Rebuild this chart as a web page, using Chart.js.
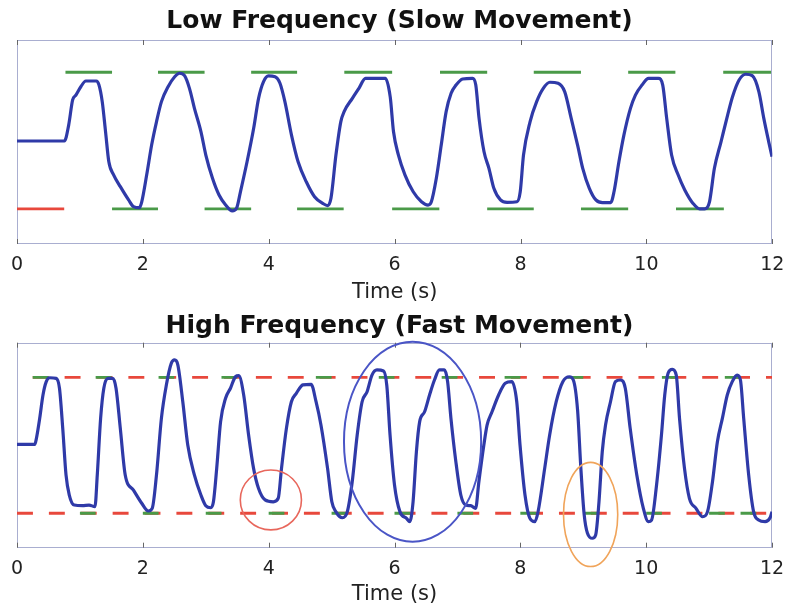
<!DOCTYPE html>
<html>
<head>
<meta charset="utf-8">
<script src="https://cdn.jsdelivr.net/npm/chart.js@4.4.1/dist/chart.umd.min.js"></script>
<style>
  html, body { margin: 0; padding: 0; background: #fff; }
  #wrap { position: relative; width: 794px; height: 608px; overflow: hidden; }
  canvas { position: absolute; left: 0; }
  #slow { top: 0; }
  #fast { top: 300px; }
</style>
</head>
<body>
<div id="wrap">
  <canvas id="slow" width="794" height="306"></canvas>
  <canvas id="fast" width="794" height="308"></canvas>
</div>
<script>
// ---- data: time (s) and position (arbitrary units, 0-100 over the axes height)
var xTicks = [0, 2, 4, 6, 8, 10, 12];

// low frequency trace
var slowTime = [0, 0.753, 0.821, 0.884, 0.936, 1.014, 1.093, 1.26, 1.302, 1.354, 1.407, 1.459, 1.537, 1.642, 1.773, 1.851, 1.945, 1.982,
  2.06, 2.139, 2.217, 2.295, 2.4, 2.505, 2.583, 2.662, 2.74, 2.819, 2.923, 3.0, 3.106, 3.21, 3.315, 3.42, 3.488, 3.55, 3.655, 3.76,
  3.838, 3.917, 3.995, 4.1, 4.178, 4.256, 4.361, 4.466, 4.596, 4.727, 4.858, 4.936, 4.988, 5.067, 5.145, 5.197, 5.328, 5.432, 5.537,
  5.851, 5.93, 5.982, 6.06, 6.165, 6.295, 6.426, 6.53, 6.583, 6.662, 6.74, 6.818, 6.897, 6.975, 7.08, 7.237, 7.289, 7.341, 7.42,
  7.498, 7.576, 7.681, 7.786, 7.943, 7.995, 8.047, 8.152, 8.256, 8.361, 8.466, 8.596, 8.701, 8.805, 8.91, 8.988, 9.093, 9.197,
  9.302, 9.433, 9.485, 9.563, 9.642, 9.746, 9.825, 9.929, 10.034, 10.191, 10.259, 10.322, 10.4, 10.505, 10.609, 10.74, 10.845,
  10.924, 11.002, 11.08, 11.185, 11.29, 11.368, 11.472, 11.577, 11.681, 11.786, 11.865, 11.943, 11.995];
var slowPos = [50.5, 50.5, 58.3, 70.6, 73, 77.1, 79.9, 79.9, 78, 69.8, 55, 40.3, 33.8, 28.1, 21.6, 18.3, 17.8, 20.7,
  33.8, 48.5, 60, 69.8, 77.1, 82, 83.7, 82.5, 76.3, 66.5, 55, 43.6, 32.2, 24, 19.1, 16.2, 17.5, 25.6, 40.3, 56.7,
  71.4, 79.6, 82.4, 82, 78.8, 69.8, 53.4, 40.3, 30.5, 23.2, 19.9, 18.8, 22.4, 43.6, 60, 64.9, 71.4, 76.3, 81.2,
  81.2, 72, 55, 43.6, 33.8, 25.6, 20.7, 19.1, 20.7, 32.2, 48.5, 64.9, 73.9, 77.9, 80.9, 81.2, 77.9, 61.6, 45.2,
  37.1, 27.3, 21.6, 20.4, 20.7, 25.6, 43.6, 60, 69.8, 76.3, 79.3, 78.8, 74.7, 61.6, 48, 37.1, 27.3, 21.6,
  20.3, 20.3, 25.6, 40.3, 53.4, 66.5, 73, 77.9, 81.2, 81.2, 77.9, 61.6, 43.6, 33.8, 26.5, 19.9, 17.2,
  17.2, 20.7, 37.1, 50.1, 63.2, 72.2, 80.4, 83.2, 82.5, 74.7, 61.6, 50.1, 42.8];

// low frequency targets
var slowHigh = 84.2;
var slowLow = 17.2;
var slowHighStart = [0.77, 2.24, 3.72, 5.2, 6.72, 8.21, 9.71, 11.22];
var slowHighEnd = [1.51, 2.98, 4.45, 5.96, 7.47, 8.96, 10.46, 11.98];
var slowLowStart = [1.51, 2.98, 4.45, 5.96, 7.47, 8.96, 10.47];
var slowLowEnd = [2.24, 3.72, 5.19, 6.71, 8.21, 9.71, 11.23];
var slowRestStart = [0];
var slowRestEnd = [0.75];

// high frequency trace
var fastTime = [0, 0.282, 0.309, 0.361, 0.413, 0.465, 0.518, 0.622, 0.675, 0.727, 0.779, 0.831, 0.91, 1.04, 1.145, 1.239, 1.276,
  1.329, 1.38, 1.448, 1.522, 1.574, 1.642, 1.72, 1.851, 1.982, 2.086, 2.149, 2.217, 2.295, 2.374, 2.452, 2.505, 2.557, 2.635,
  2.714, 2.819, 2.923, 3.0, 3.08, 3.122, 3.174, 3.236, 3.315, 3.393, 3.472, 3.524, 3.603, 3.681, 3.76, 3.838, 3.943, 4.073,
  4.152, 4.204, 4.282, 4.361, 4.439, 4.544, 4.675, 4.753, 4.831, 4.936, 5.004, 5.067, 5.172, 5.25, 5.328, 5.407, 5.485, 5.564,
  5.642, 5.721, 5.825, 5.878, 5.929, 6.0, 6.086, 6.191, 6.243, 6.295, 6.348, 6.4, 6.478, 6.557, 6.635, 6.714, 6.792, 6.844,
  6.897, 6.975, 7.054, 7.132, 7.211, 7.289, 7.341, 7.42, 7.472, 7.55, 7.655, 7.76, 7.864, 7.943, 7.995, 8.074, 8.152, 8.23,
  8.282, 8.387, 8.466, 8.57, 8.675, 8.78, 8.842, 8.91, 8.962, 9.015, 9.067, 9.145, 9.197, 9.25, 9.302, 9.354, 9.433, 9.511,
  9.589, 9.668, 9.746, 9.851, 9.955, 10.034, 10.086, 10.165, 10.243, 10.295, 10.348, 10.416, 10.478, 10.53, 10.609, 10.687,
  10.792, 10.897, 10.975, 11.054, 11.132, 11.211, 11.289, 11.368, 11.446, 11.498, 11.55, 11.629, 11.707, 11.786, 11.89, 11.969, 12.0];
var fastPos = [50.4, 50.4, 53.4, 63.1, 74.5, 81, 82.9, 82.6, 77.8, 58.2, 35.5, 25.7, 20.8, 20.5, 20.8, 20, 35.5,
  63.1, 77.8, 82.6, 82.6, 77.8, 58.2, 35.5, 28.1, 21.7, 17.9, 19.2, 35.5, 63.1, 79.4, 89.9, 91.6, 89.1, 71.2,
  50.1, 35.5, 25.7, 20.5, 19.5, 22.4, 38.7, 61.5, 72.9, 77.8, 83.4, 83.9, 74.5, 55, 38.7, 29, 23.3, 22.4,
  24.1, 38.7, 58.2, 71.2, 75.3, 79.4, 79.7, 71.2, 59.9, 38.7, 22.4, 17.6, 14.6, 17.6, 32.2, 55, 71.2, 76.1,
  84.2, 86.7, 86.2, 79, 55, 30.6, 17.6, 14.3, 12.7, 22.4, 46.8, 61.5, 66.3, 74.5, 81.8, 86.7, 86.7, 81,
  63.1, 42, 25.7, 20.8, 20.5, 19.2, 32.2, 50.1, 59.9, 66.3, 74.5, 80.2, 81, 71.2, 50.1, 25.7, 14.3, 12.7,
  17.6, 38.7, 55, 71.2, 81, 83.4, 81.8, 67, 38.7, 16, 7, 4.6, 6.2, 22.4, 46.8, 59.9, 71.2, 81,
  81.8, 77.8, 58.2, 35.5, 19.2, 12.7, 13.5, 30.6, 55, 74.5, 85.1, 87, 84.2, 63.1, 38.7, 24.1,
  19.2, 15.1, 17.6, 32.2, 51.7, 63.1, 74.5, 81, 84.2, 81.8, 63.1, 35.5, 17.6, 13.5, 12.7, 14.6, 17.6];

// high frequency targets (red dashed limits, green where the target is active)
var fastHigh = 83.1;
var fastLow = 16.8;
var fastHighRange = [0.25, 12];
var fastLowRange = [0, 12];
var fastHighGreenStart = [0.25, 1.25, 2.25, 3.25, 4.75, 5.75, 6.75, 7.75, 8.75, 10.25, 11.25];
var fastHighGreenEnd = [0.5, 1.5, 2.5, 3.5, 5.0, 6.0, 7.0, 8.0, 9.0, 10.5, 11.5];
var fastLowGreenStart = [1, 2, 3, 4, 5, 6, 7, 8, 9, 10, 11, 11.5];
var fastLowGreenEnd = [1.25, 2.25, 3.25, 4.25, 5.25, 6.25, 7.25, 8.25, 9.25, 10.25, 11.25, 11.75];

// annotations on the fast trace: centre (time, position) and half sizes
var ringTime = [4.035, 6.287, 9.117];
var ringPos = [23.3, 51.7, 16.2];
var ringHalfTime = [0.486, 1.09, 0.431];
var ringHalfPos = [14.6, 48.8, 25.4];
var ringColor = ['#e8675c', '#4a55c6', '#f0a45a'];

// ---- helpers
function pairs(ts, vs) {
    return ts.map(function(t, i){ return {x: t, y: vs[i]}; });
}
function pieces(starts, ends, level) {
    var pts = [];
    for (let i = 0; i < starts.length; i++) {
        pts.push({x: starts[i], y: level});
        pts.push({x: ends[i], y: level});
        pts.push({x: ends[i], y: null});
    }
    return pts;
}

var BLUE = '#2f3aa8';
var GREEN = '#4a9a48';
var RED = '#e8483c';

Chart.defaults.font.family = "'DejaVu Sans', sans-serif";
Chart.defaults.color = '#222';

var framePlugin = {
    id: 'frame',
    beforeDatasetsDraw(chart) {
        var ctx = chart.ctx, a = chart.chartArea, x = chart.scales.x;
        ctx.save();
        ctx.strokeStyle = '#a9aed0';
        ctx.lineWidth = 1;
        ctx.strokeRect(Math.round(a.left) + 0.5, Math.round(a.top) + 0.5, Math.round(a.width) - 1, Math.round(a.height) - 1);
        ctx.strokeStyle = '#666';
        x.ticks.forEach(function(t){
            var px = Math.round(x.getPixelForValue(t.value)) + 0.5;
            ctx.beginPath();
            ctx.moveTo(px, a.bottom); ctx.lineTo(px, a.bottom - 5);
            ctx.moveTo(px, a.top); ctx.lineTo(px, a.top + 5);
            ctx.stroke();
        });
        ctx.restore();
    }
};

var ringPlugin = {
    id: 'rings',
    afterDatasetsDraw(chart, args, opts) {
        if (!opts.show) return;
        var ctx = chart.ctx, x = chart.scales.x, y = chart.scales.y;
        for (let i = 0; i < ringTime.length; i++) {
            var cx = x.getPixelForValue(ringTime[i]);
            var cy = y.getPixelForValue(ringPos[i]);
            var rx = Math.abs(x.getPixelForValue(ringTime[i] + ringHalfTime[i]) - cx);
            var ry = Math.abs(y.getPixelForValue(ringPos[i] + ringHalfPos[i]) - cy);
            ctx.save();
            ctx.beginPath();
            ctx.ellipse(cx, cy, rx, ry, 0, 0, Math.PI * 2);
            ctx.strokeStyle = ringColor[i];
            ctx.lineWidth = i == 1 ? 2 : 1.6;
            ctx.stroke();
            ctx.restore();
        }
    }
};

// chart.js reserves 2x the tick padding under the labels, the negative title padding takes that back
function baseOptions(title, titlePad, tickPad, axisTitlePad, bottomPad, rings) {
    return {
        responsive: false,
        animation: false,
        devicePixelRatio: 1,
        layout: { padding: { left: 17, right: 12, top: 0, bottom: bottomPad } },
        plugins: {
            legend: { display: false },
            tooltip: { enabled: false },
            title: {
                display: true,
                text: title,
                color: '#111',
                font: { size: 25, weight: 'bold', family: "'DejaVu Sans', sans-serif" },
                padding: titlePad
            },
            rings: { show: rings }
        },
        scales: {
            x: {
                type: 'linear',
                min: 0,
                max: 12,
                afterBuildTicks: function(axis){ axis.ticks = xTicks.map(function(v){ return {value: v}; }); },
                ticks: { font: { size: 19 }, color: '#222', padding: tickPad, maxRotation: 0 },
                grid: { display: false, drawTicks: false },
                border: { display: false },
                title: {
                    display: true,
                    text: 'Time (s)',
                    color: '#222',
                    font: { size: 21 },
                    padding: { top: axisTitlePad, bottom: 0 }
                }
            },
            y: { display: false, min: 0, max: 100 }
        }
    };
}

// ---- low frequency chart
new Chart(document.getElementById('slow'), {
    type: 'line',
    data: {
        datasets: [
            { data: pairs(slowTime, slowPos), borderColor: BLUE, borderWidth: 3.2, pointRadius: 0, cubicInterpolationMode: 'monotone' },
            { data: pieces(slowHighStart, slowHighEnd, slowHigh), borderColor: GREEN, borderWidth: 2.8, pointRadius: 0, spanGaps: false },
            { data: pieces(slowLowStart, slowLowEnd, slowLow), borderColor: GREEN, borderWidth: 2.8, pointRadius: 0, spanGaps: false },
            { data: pieces(slowRestStart, slowRestEnd, slowLow), borderColor: RED, borderWidth: 2.8, pointRadius: 0, spanGaps: false }
        ]
    },
    options: baseOptions('Low Frequency (Slow Movement)', { top: 6, bottom: 4 }, 9.6, -6.1, 0.9, false),
    plugins: [framePlugin, ringPlugin]
});

// ---- high frequency chart
new Chart(document.getElementById('fast'), {
    type: 'line',
    data: {
        datasets: [
            { data: pairs(fastTime, fastPos), borderColor: BLUE, borderWidth: 3.2, pointRadius: 0, cubicInterpolationMode: 'monotone' },
            { data: pieces(fastHighGreenStart, fastHighGreenEnd, fastHigh), borderColor: GREEN, borderWidth: 2.8, pointRadius: 0, spanGaps: false },
            { data: pieces(fastLowGreenStart, fastLowGreenEnd, fastLow), borderColor: GREEN, borderWidth: 2.8, pointRadius: 0, spanGaps: false },
            { data: pieces([fastHighRange[0]], [fastHighRange[1]], fastHigh), borderColor: RED, borderWidth: 2.8, borderDash: [15.94, 15.94], pointRadius: 0 },
            { data: pieces([fastLowRange[0]], [fastLowRange[1]], fastLow), borderColor: RED, borderWidth: 2.8, borderDash: [15.94, 15.94], pointRadius: 0 }
        ]
    },
    options: baseOptions('High Frequency (Fast Movement)', { top: 11, bottom: 1.7 }, 9.9, -8.7, 1.2, true),
    plugins: [framePlugin, ringPlugin]
});
</script>
</body>
</html>
